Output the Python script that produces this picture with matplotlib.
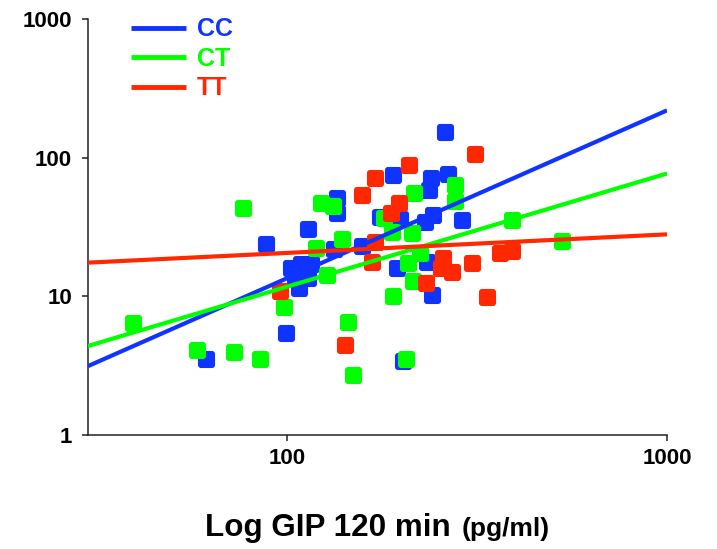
import numpy as np
import matplotlib
matplotlib.use("Agg")
import matplotlib.pyplot as plt
from matplotlib.path import Path

plt.rcParams['font.family'] = ['Liberation Sans', 'DejaVu Sans']

# ---------------- data ----------------
series_names = ["CC", "CT", "TT"]
series_colors = ["#1034FF", "#00FF00", "#FF2800"]

cc_x = [88.1, 113.6, 135.4, 135.4, 133.0, 157.5, 190.0, 239.0, 265.5, 236.6, 260.6,
        175.7, 198.3, 242.0, 230.7, 289.0, 194.6, 233.6, 241.0, 201.9, 99.4, 61.3,
        102.4, 108.9, 115.7, 105.0, 113.6, 107.5]
cc_y = [23.7, 30.4, 50.9, 39.6, 21.8, 22.9, 74.5, 71.0, 75.9, 58.1, 152.0,
        37.2, 35.9, 38.4, 34.2, 35.3, 15.9, 17.6, 10.3, 3.40, 5.41, 3.51,
        15.9, 17.0, 17.0, 13.7, 13.5, 11.4]

ct_x = [76.6, 122.8, 132.2, 139.6, 119.2, 127.4, 39.5, 57.9, 72.6, 84.9, 98.2,
        144.7, 149.2, 190.0, 214.8, 205.6, 215.8, 276.8, 276.8, 179.9, 188.9,
        213.3, 224.0, 208.0, 390.8, 529.5]
ct_y = [43.1, 46.9, 44.6, 25.8, 22.2, 14.2, 6.38, 4.08, 3.94, 3.51, 8.33,
        6.50, 2.69, 10.0, 13.0, 3.52, 55.3, 63.1, 48.4, 36.5, 28.9,
        28.5, 20.7, 17.3, 35.3, 24.9]

tt_x = [95.9, 142.1, 209.5, 312.5, 170.7, 157.5, 197.2, 187.9, 170.7, 167.5,
        257.5, 271.8, 254.0, 306.9, 232.2, 335.9, 363.9, 390.8]
tt_y = [11.0, 4.43, 87.9, 107.0, 71.0, 53.5, 46.9, 39.6, 24.5, 17.6,
        18.8, 15.1, 15.9, 17.3, 12.4, 9.84, 20.7, 21.1]

# regression lines: log10(y) = intercept + slope * log10(x)
fit_intercepts = [-1.292, -0.565, 1.045]
fit_slopes = [1.211, 0.817, 0.134]

x_ticks = [100, 1000]
y_ticks = [1, 10, 100, 1000]
x_range = [30, 1000]
y_range = [1, 1000]
x_label_main = "Log GIP 120 min"
x_label_unit = "(pg/ml)"

# ---------------- marker ----------------
def rounded_square(r=0.36, n=10):
    verts = []
    corners = [(1 - r, 1 - r, 0), (-(1 - r), 1 - r, 90),
               (-(1 - r), -(1 - r), 180), (1 - r, -(1 - r), 270)]
    for cx, cy, a0 in corners:
        for t in np.linspace(np.radians(a0), np.radians(a0 + 90), n):
            verts.append((cx + r * np.cos(t), cy + r * np.sin(t)))
    verts.append(verts[0])
    codes = [Path.MOVETO] + [Path.LINETO] * (len(verts) - 2) + [Path.CLOSEPOLY]
    return Path(verts, codes)

marker = rounded_square()

# ---------------- figure ----------------
fig = plt.figure(figsize=(7.17, 5.49), dpi=100)
ax = fig.add_axes([88 / 717, 1 - 435 / 549, (667 - 88) / 717, (435 - 19) / 549])
ax.set_xscale('log')
ax.set_yscale('log')
ax.set_xlim(*x_range)
ax.set_ylim(*y_range)

xs_all = [cc_x, ct_x, tt_x]
ys_all = [cc_y, ct_y, tt_y]
for xs, ys, c in zip(xs_all, ys_all, series_colors):
    ax.plot(xs, ys, linestyle='none', marker=marker, markersize=12.3,
            markerfacecolor=c, markeredgewidth=0, zorder=2, clip_on=False)

xl = np.array(x_range, dtype=float)
for name, c, a, b in zip(series_names, series_colors, fit_intercepts, fit_slopes):
    yl = 10 ** (a + b * np.log10(xl))
    ax.plot(xl, yl, color=c, lw=3, solid_capstyle='butt', label=name, zorder=3)

for s in ['top', 'right']:
    ax.spines[s].set_visible(False)
for s in ['left', 'bottom']:
    ax.spines[s].set_color('#222222')
    ax.spines[s].set_linewidth(1.1)

ax.set_xticks(x_ticks)
ax.set_xticklabels([str(v) for v in x_ticks])
ax.set_yticks(y_ticks)
ax.set_yticklabels([str(v) for v in y_ticks])
ax.minorticks_off()
ax.tick_params(axis='both', direction='out', length=4.5, width=1.1, color='#222222',
               labelsize=16)
ax.tick_params(axis='y', pad=7)
ax.tick_params(axis='x', pad=5)
for lab in ax.get_xticklabels() + ax.get_yticklabels():
    lab.set_fontweight('bold')

leg = ax.legend(loc='upper left', bbox_to_anchor=(0.035, 1.058), frameon=False,
                prop={'size': 18, 'weight': 'bold'}, handlelength=2.2,
                handletextpad=0.45, labelspacing=0.22, labelcolor='linecolor')
for h in leg.legend_handles:
    h.set_linewidth(3.5)

fig.text(0.286, 0.024, x_label_main, fontsize=22.6, fontweight='bold', ha='left', va='baseline')
fig.text(0.644, 0.024, x_label_unit, fontsize=19, fontweight='bold', ha='left', va='baseline')

fig.savefig('out.png', dpi=100)
